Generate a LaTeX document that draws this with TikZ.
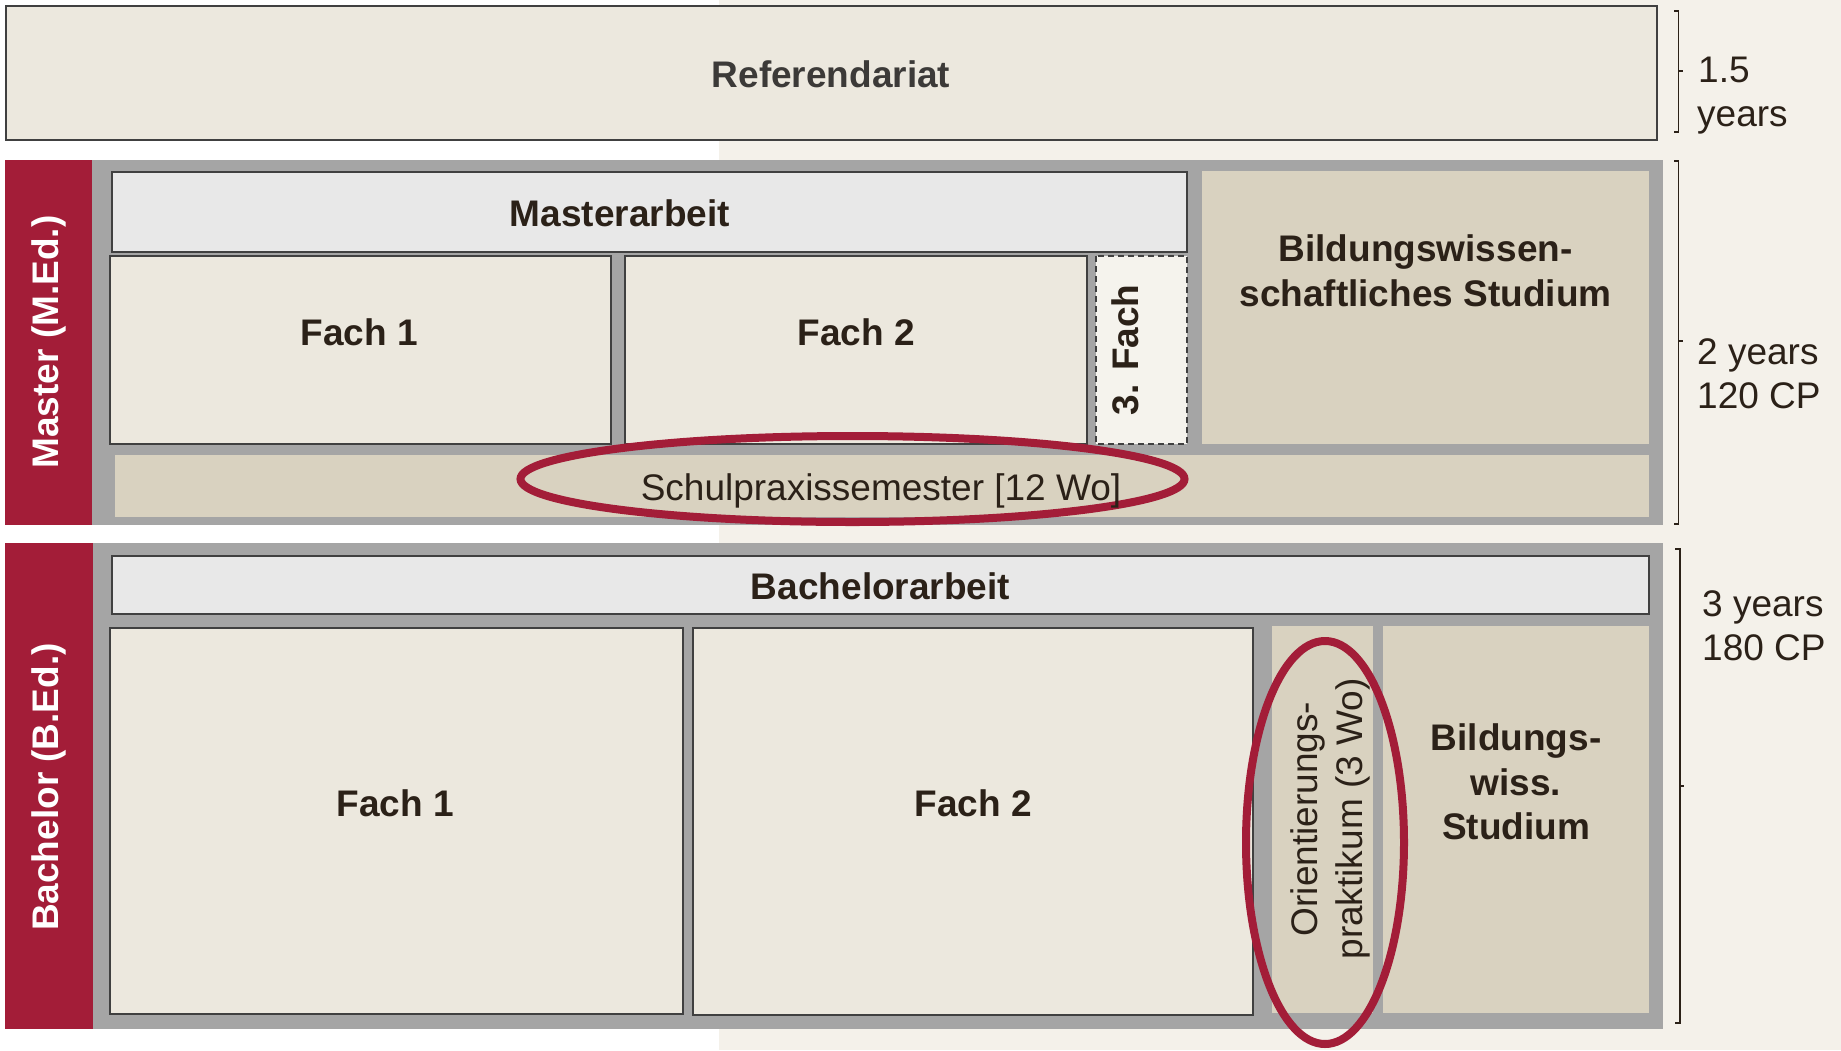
\documentclass[tikz,border=0pt]{standalone}
\usepackage{fontspec}
\setmainfont{Liberation Sans}
\definecolor{bgcream}{HTML}{F4F1EA}
\definecolor{boxcream}{HTML}{ECE8DE}
\definecolor{boxgray}{HTML}{E8E8E8}
\definecolor{cTan}{HTML}{D9D2C0}
\definecolor{framegray}{HTML}{A5A5A5}
\definecolor{cMaroon}{HTML}{A31D38}
\definecolor{cEdge}{HTML}{404040}
\definecolor{ink}{HTML}{2B2118}
\definecolor{refink}{HTML}{3C3A38}
\definecolor{dashfill}{HTML}{F5F3ED}
\begin{document}
\begin{tikzpicture}[x=1pt,y=-1pt,
  cbox/.style={fill=boxcream,draw=cEdge,line width=2.2pt},
  gbox/.style={fill=boxgray,draw=cEdge,line width=2.2pt},
  tbox/.style={fill=cTan},
  bigb/.style={font=\fontsize{37}{44}\selectfont\bfseries,text=ink,inner sep=0pt,anchor=base},
  reg/.style={font=\fontsize{37}{44}\selectfont,text=ink,inner sep=0pt,anchor=base},
  side/.style={font=\fontsize{37}{44}\selectfont,text=ink,inner sep=0pt,anchor=base west},
  vlab/.style={font=\fontsize{37}{44}\selectfont\bfseries,text=white,inner sep=0pt,rotate=90},
  ring/.style={draw=cMaroon,line width=8pt},
  brk/.style={draw=ink,line width=1.6pt}]
\useasboundingbox (0,0) rectangle (1841,1050);
% background
\fill[white] (0,0) rectangle (1841,1050);
\fill[bgcream] (719,0) rectangle (1841,1050);

% Referendariat
\draw[cbox] (6,6) rectangle (1657,140);
\node[bigb,text=refink] (ref) at (831,87) {Referendariat};

% Master block
\fill[cMaroon] (5,160) rectangle (92,525);
\fill[framegray] (92,160) rectangle (1663,525);
\node[vlab] (mlab) at (48.5,342) {Master (M.Ed.)};
\draw[gbox] (112,172) rectangle (1187,252);
\node[bigb] (marb) at (620,226) {Masterarbeit};
\draw[cbox] (110,256) rectangle (611,444);
\node[bigb] (mf1) at (359,345) {Fach 1};
\draw[cbox] (625,256) rectangle (1087,444);
\node[bigb] (mf2) at (856,345) {Fach 2};
\draw[fill=dashfill,draw=cEdge,line width=1.6pt,dash pattern=on 6pt off 4pt] (1096,256) rectangle (1187,444);
\node[bigb,rotate=90] (mf3) at (1138,350) {3. Fach};
\fill[cTan] (1202,171) rectangle (1649,444);
\node[bigb] (mbw1) at (1425.5,261) {Bildungswissen-};
\node[bigb] (mbw2) at (1425.5,306) {schaftliches Studium};
\fill[cTan] (115,455) rectangle (1649,517);
\draw[ring] (852.5,479) ellipse [x radius=332pt, y radius=43pt];
\node[reg] (sps) at (881,500) {Schulpraxissemester [12 Wo]};

% Bachelor block
\fill[cMaroon] (5,543) rectangle (93,1029);
\fill[framegray] (93,543) rectangle (1663,1029);
\node[vlab] (blab) at (48.5,787) {Bachelor (B.Ed.)};
\draw[gbox] (112,556) rectangle (1649,614);
\node[bigb] (barb) at (880.5,599) {Bachelorarbeit};
\draw[cbox] (110,628) rectangle (683,1014);
\node[bigb] (bf1) at (395,816) {Fach 1};
\draw[cbox] (693,628) rectangle (1253,1015);
\node[bigb] (bf2) at (973,816) {Fach 2};
\fill[cTan] (1272,626) rectangle (1373,1013);
\fill[cTan] (1383,626) rectangle (1649,1013);
\node[bigb] (bbw1) at (1516,750) {Bildungs-};
\node[bigb] (bbw2) at (1516,795) {wiss.};
\node[bigb] (bbw3) at (1516,839) {Studium};
\draw[ring] (1325,842.5) ellipse [x radius=79pt, y radius=201.5pt];
\node[reg,rotate=90] (or1) at (1317,819) {Orientierungs-};
\node[reg,rotate=90] (or2) at (1362,819) {praktikum (3 Wo)};

% brackets
\draw[brk] (1674,11) -- (1678.5,11) -- (1678.5,132) -- (1674,132);
\draw[brk] (1678.5,71) -- (1683,71);
\draw[brk] (1674,161) -- (1678.5,161) -- (1678.5,524) -- (1674,524);
\draw[brk] (1678.5,341) -- (1683,341);
\draw[brk] (1675,549) -- (1680,549) -- (1680,1023) -- (1675,1023);
\draw[brk] (1680,786) -- (1684,786);

% side labels
\node[side] (t15) at (1698,82) {1.5};
\node[side] (t15y) at (1697,126) {years};
\node[side] (t2y) at (1697,364) {2 years};
\node[side] (t2cp) at (1697,408) {120 CP};
\node[side] (t3y) at (1702,616) {3 years};
\node[side] (t3cp) at (1702,660) {180 CP};
\end{tikzpicture}
\end{document}
